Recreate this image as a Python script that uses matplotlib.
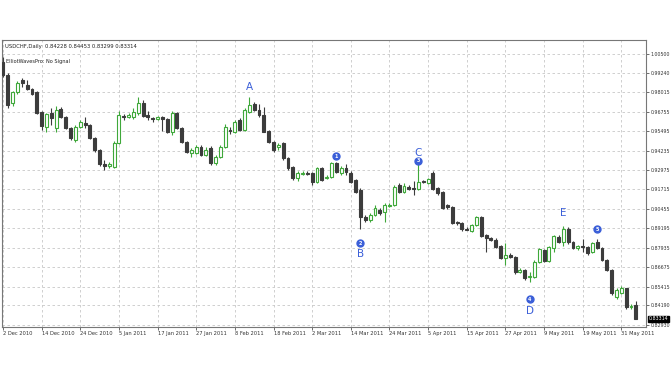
import numpy as np
import matplotlib.pyplot as plt

# USDCHF daily candles, 2 Dec 2010 .. 2 Jun 2011
opens = [0.9998, 0.9914, 0.9732, 0.9803, 0.9881, 0.9849, 0.9823, 0.9803, 0.9674, 0.9576,
         0.9667, 0.9570, 0.9693, 0.9641, 0.9570, 0.9492, 0.9576, 0.9602, 0.9589, 0.9505,
         0.9427, 0.9336, 0.9323, 0.9317, 0.9472, 0.9648, 0.9641, 0.9641, 0.9667, 0.9732,
         0.9654, 0.9635, 0.9628, 0.9641, 0.9628, 0.9544, 0.9667, 0.9570, 0.9479, 0.9408,
         0.9408, 0.9447, 0.9395, 0.9440, 0.9343, 0.9382, 0.9447, 0.9557, 0.9544, 0.9622,
         0.9557, 0.9674, 0.9725, 0.9687, 0.9654, 0.9550, 0.9479, 0.9447, 0.9472, 0.9375,
         0.9317, 0.9245, 0.9271, 0.9278, 0.9278, 0.9219, 0.9310, 0.9245, 0.9252, 0.9343,
         0.9278, 0.9310, 0.9278, 0.9232, 0.9168, 0.8992, 0.8973, 0.9005, 0.9038, 0.9025,
         0.9064, 0.9070, 0.9200, 0.9155, 0.9187, 0.9180, 0.9174, 0.9226, 0.9213, 0.9278,
         0.9180, 0.9155, 0.9070, 0.9057, 0.8960, 0.8953, 0.8914, 0.8901, 0.8940, 0.8992,
         0.8875, 0.8856, 0.8843, 0.8804, 0.8726, 0.8746, 0.8733, 0.8635, 0.8648, 0.8603,
         0.8603, 0.8700, 0.8778, 0.8707, 0.8791, 0.8862, 0.8830, 0.8914, 0.8830, 0.8791,
         0.8804, 0.8798, 0.8765, 0.8830, 0.8791, 0.8713, 0.8648, 0.8473, 0.8499, 0.8531,
         0.8408, 0.84228]
highs = [1.0030, 0.9927, 0.9810, 0.9875, 0.9894, 0.9881, 0.9830, 0.9810, 0.9680, 0.9667,
         0.9700, 0.9710, 0.9706, 0.9648, 0.9576, 0.9589, 0.9622, 0.9641, 0.9596, 0.9511,
         0.9434, 0.9362, 0.9350, 0.9485, 0.9680, 0.9661, 0.9667, 0.9700, 0.9771, 0.9751,
         0.9680, 0.9641, 0.9648, 0.9648, 0.9635, 0.9680, 0.9674, 0.9576, 0.9485, 0.9440,
         0.9460, 0.9460, 0.9447, 0.9453, 0.9395, 0.9460, 0.9596, 0.9576, 0.9622, 0.9635,
         0.9700, 0.9771, 0.9738, 0.9725, 0.9706, 0.9557, 0.9485, 0.9472, 0.9479, 0.9382,
         0.9323, 0.9290, 0.9290, 0.9290, 0.9284, 0.9317, 0.9317, 0.9265, 0.9350, 0.9350,
         0.9323, 0.9336, 0.9290, 0.9239, 0.9180, 0.9005, 0.9018, 0.9070, 0.9051, 0.9083,
         0.9083, 0.9200, 0.9213, 0.9213, 0.9200, 0.9226, 0.9343, 0.9232, 0.9245, 0.9290,
         0.9187, 0.9161, 0.9077, 0.9064, 0.8966, 0.8960, 0.8927, 0.8947, 0.8998, 0.8998,
         0.8882, 0.8862, 0.8856, 0.8811, 0.8823, 0.8759, 0.8740, 0.8661, 0.8655, 0.8635,
         0.8713, 0.8791, 0.8785, 0.8804, 0.8875, 0.8875, 0.8934, 0.8927, 0.8836, 0.8811,
         0.8850, 0.8804, 0.8830, 0.8850, 0.8798, 0.8720, 0.8655, 0.8531, 0.8544, 0.8531,
         0.8428, 0.84453]
lows = [0.9900, 0.9700, 0.9713, 0.9790, 0.9836, 0.9816, 0.9784, 0.9661, 0.9557, 0.9544,
        0.9589, 0.9544, 0.9635, 0.9563, 0.9492, 0.9479, 0.9570, 0.9570, 0.9498, 0.9414,
        0.9323, 0.9297, 0.9310, 0.9310, 0.9466, 0.9620, 0.9635, 0.9628, 0.9654, 0.9641,
        0.9622, 0.9609, 0.9622, 0.9550, 0.9537, 0.9524, 0.9563, 0.9472, 0.9408, 0.9382,
        0.9401, 0.9388, 0.9388, 0.9330, 0.9330, 0.9375, 0.9440, 0.9530, 0.9537, 0.9550,
        0.9550, 0.9667, 0.9680, 0.9641, 0.9544, 0.9472, 0.9414, 0.9427, 0.9362, 0.9297,
        0.9232, 0.9226, 0.9265, 0.9265, 0.9200, 0.9213, 0.9226, 0.9239, 0.9245, 0.9278,
        0.9265, 0.9265, 0.9213, 0.9148, 0.8914, 0.8960, 0.8960, 0.8998, 0.9005, 0.8960,
        0.9057, 0.9064, 0.9148, 0.9148, 0.9168, 0.9135, 0.9168, 0.9213, 0.9207, 0.9168,
        0.9135, 0.9044, 0.9044, 0.8947, 0.8940, 0.8901, 0.8908, 0.8895, 0.8934, 0.8862,
        0.8765, 0.8836, 0.8791, 0.8720, 0.8681, 0.8726, 0.8622, 0.8629, 0.8583, 0.8570,
        0.8596, 0.8694, 0.8700, 0.8700, 0.8765, 0.8823, 0.8804, 0.8817, 0.8785, 0.8778,
        0.8765, 0.8746, 0.8759, 0.8785, 0.8707, 0.8642, 0.8486, 0.8460, 0.8492, 0.8395,
        0.8395, 0.83299]
closes = [0.9914, 0.9719, 0.9803, 0.9862, 0.9862, 0.9823, 0.9790, 0.9667, 0.9583, 0.9661,
          0.9635, 0.9687, 0.9641, 0.9570, 0.9505, 0.9576, 0.9609, 0.9589, 0.9505, 0.9427,
          0.9336, 0.9323, 0.9336, 0.9472, 0.9654, 0.9641, 0.9654, 0.9674, 0.9732, 0.9648,
          0.9641, 0.9628, 0.9641, 0.9628, 0.9544, 0.9667, 0.9570, 0.9479, 0.9414, 0.9427,
          0.9447, 0.9395, 0.9427, 0.9343, 0.9382, 0.9447, 0.9576, 0.9550, 0.9609, 0.9557,
          0.9687, 0.9719, 0.9687, 0.9654, 0.9544, 0.9479, 0.9427, 0.9460, 0.9375, 0.9310,
          0.9245, 0.9278, 0.9278, 0.9271, 0.9219, 0.9310, 0.9232, 0.9252, 0.9343, 0.9284,
          0.9310, 0.9284, 0.9219, 0.9155, 0.8992, 0.8973, 0.9005, 0.9051, 0.9018, 0.9070,
          0.9070, 0.9187, 0.9155, 0.9193, 0.9174, 0.9177, 0.9219, 0.9219, 0.9239, 0.9174,
          0.9148, 0.9051, 0.9057, 0.8953, 0.8953, 0.8914, 0.8911, 0.8940, 0.8992, 0.8869,
          0.8856, 0.8843, 0.8798, 0.8726, 0.8746, 0.8733, 0.8635, 0.8648, 0.8596, 0.8609,
          0.8700, 0.8785, 0.8707, 0.8798, 0.8869, 0.8830, 0.8914, 0.8830, 0.8791, 0.8804,
          0.8798, 0.8759, 0.8823, 0.8791, 0.8713, 0.8648, 0.8499, 0.8518, 0.8531, 0.8408,
          0.8415, 0.83314]

date_labels = ["2 Dec 2010", "14 Dec 2010", "24 Dec 2010", "5 Jan 2011", "17 Jan 2011",
               "27 Jan 2011", "8 Feb 2011", "18 Feb 2011", "2 Mar 2011", "14 Mar 2011",
               "24 Mar 2011", "5 Apr 2011", "15 Apr 2011", "27 Apr 2011", "9 May 2011",
               "19 May 2011", "31 May 2011"]
label_step = 8
price_ticks = [1.00500, 0.99240, 0.98015, 0.96755, 0.95495, 0.94235, 0.92975, 0.91715,
               0.90455, 0.89195, 0.87935, 0.86675, 0.85415, 0.84190, 0.82930]

# elliott wave marks: (bar, price, text, circled?)
wave_labels = [(51, 0.9836, "A", False), (69, 0.9388, "1", True), (74, 0.8823, "2", True),
               (74, 0.8752, "B", False), (86, 0.9408, "C", False), (86, 0.9356, "3", True),
               (109, 0.8460, "4", True), (109, 0.8382, "D", False), (116, 0.9018, "E", False),
               (123, 0.8914, "5", True)]

bull_col = "#3fa83a"
bear_col = "#3c3c3c"
wave_col = "#3b5fd8"
axis_fs = 3.4

fig = plt.figure(figsize=(6.72, 3.78), dpi=100)
ax = fig.add_axes([2 / 672, 51 / 378, 644 / 672, 287 / 378])

o = np.array(opens); h = np.array(highs); l = np.array(lows); c = np.array(closes)
x = np.arange(len(o))
up = c >= o

ax.vlines(x[up], l[up], h[up], color=bull_col, lw=0.8, zorder=2)
ax.vlines(x[~up], l[~up], h[~up], color=bear_col, lw=0.8, zorder=2)
body_lo = np.minimum(o, c)
body_h = np.maximum(np.abs(c - o), 0.0002)
ax.bar(x[up], body_h[up], bottom=body_lo[up], width=0.6, facecolor="white",
       edgecolor=bull_col, lw=0.8, zorder=3)
ax.bar(x[~up], body_h[~up], bottom=body_lo[~up], width=0.6, facecolor=bear_col,
       edgecolor=bear_col, lw=0.8, zorder=3)

for bx, py, txt, circ in wave_labels:
    if circ:
        ax.plot(bx, py, "o", ms=5, color=wave_col, zorder=5)
        ax.text(bx, py, txt, color="white", fontsize=3.5, ha="center", va="center",
                fontweight="bold", zorder=6)
    else:
        ax.text(bx, py, txt, color=wave_col, fontsize=7.5, ha="center", va="center", zorder=5)

ax.set_xlim(-0.2, 133.1)
ax.set_ylim(0.8279, 1.0141)

ax.yaxis.tick_right()
ax.set_yticks(price_ticks)
ax.set_yticklabels([f"{p:.5f}" for p in price_ticks], fontsize=axis_fs, color="#333333")
xt = np.arange(len(date_labels)) * label_step
ax.set_xticks(xt)
ax.set_xticklabels(date_labels, fontsize=3.7, color="#333333", ha="left")
ax.tick_params(axis="both", length=2, width=0.6, pad=1.2, color="#555555")

ax.grid(True, color="#c8c8c8", ls=(0, (3, 3)), lw=0.6)
ax.set_axisbelow(True)
for s in ax.spines.values():
    s.set_color("#777777")
    s.set_linewidth(0.8)

ax.text(0.004, 0.985, "USDCHF,Daily  0.84228 0.84453 0.83299 0.83314", transform=ax.transAxes,
        fontsize=3.8, va="top", ha="left", color="#222222")
ax.text(0.006, 0.935, "ElliotWavesPro: No Signal", transform=ax.transAxes,
        fontsize=3.6, va="top", ha="left", color="#222222")

# last price box on the price scale
ax.annotate(f"{closes[-1]:.5f}", xy=(1.0, closes[-1]), xycoords=("axes fraction", "data"),
            xytext=(2.0, 0), textcoords="offset points", fontsize=axis_fs, color="white",
            va="center", ha="left",
            bbox=dict(boxstyle="square,pad=0.15", fc="black", ec="black"))

fig.savefig("out.png", dpi=100)
